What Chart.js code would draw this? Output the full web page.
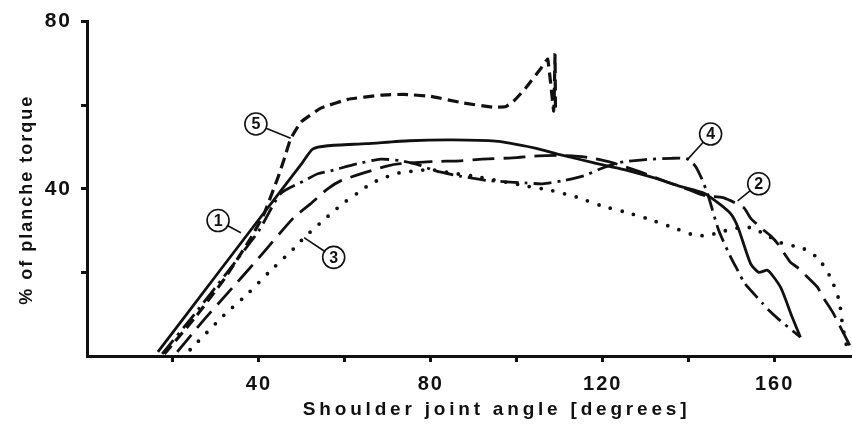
<!DOCTYPE html>
<html>
<head>
<meta charset="utf-8">
<script src="https://cdn.jsdelivr.net/npm/chart.js@4.4.1/dist/chart.umd.min.js"></script>
<style>
  html, body { margin: 0; padding: 0; background: #fff; }
  #wrap { width: 852px; height: 425px; }
</style>
</head>
<body>
<div id="wrap"><canvas id="chart"></canvas></div>
<script>
// axis ticks
const xTicks = [20, 40, 60, 80, 100, 120, 140, 160];
const xLabels = [40, 80, 120, 160];
const yTicks = [20, 40, 60, 80];
const yLabels = [40, 80];

// curve 1 - solid
const c1x = [16.5, 30, 45, 50, 52.5, 56, 65, 75, 85, 95, 104, 110, 118, 125, 132, 138, 143.5, 147, 149.8, 151.5, 154.4, 156.3, 158.4, 161.4, 164, 166];
const c1y = [1, 19.2, 39.4, 46.1, 49.5, 50.3, 50.8, 51.5, 51.7, 51.4, 49.8, 48.2, 46.2, 44.6, 42.6, 40.6, 39, 36.5, 34, 30.7, 22.1, 20, 20.5, 16.4, 9.5, 4.5];

// curve 2 - long dashes
const c2x = [21, 27, 32, 40, 48, 52, 56, 59, 64.4, 70, 73, 80, 87, 92, 99, 105, 110, 116, 122, 128, 134, 140, 144, 148, 152.8, 154.4, 157, 159, 160.7, 163.7, 165.3, 167.5, 170, 171, 173.5, 174.7, 177.7];
const c2y = [1, 8.4, 14.2, 23.5, 33, 36.4, 40, 41.9, 43.8, 45.5, 46, 46.5, 46.7, 47.1, 47.4, 47.9, 48, 47.6, 46.3, 44.3, 42, 39.8, 38.3, 37.9, 35.5, 33, 30.5, 28.8, 26.9, 22.4, 21.2, 19, 16.4, 14.5, 10.5, 8.1, 2.1];

// curve 3 - dotted
const c3x = [24, 31.9, 37, 42.3, 48.1, 50.5, 56.7, 59.8, 63, 66, 69, 72.6, 76.5, 80, 84.7, 90, 96, 102, 108, 114, 119.5, 125, 130, 137, 141, 144, 147, 150.5, 154.4, 158, 161.4, 166.7, 170.2, 173, 175, 175.8, 176.7];
const c3y = [1.5, 9.8, 14.5, 20, 25.7, 28.3, 34, 36.7, 39, 41.2, 42.6, 43.8, 44.3, 44.6, 43.8, 43, 41.9, 40.7, 39.6, 38, 36, 34.5, 33, 30.5, 29, 28.8, 29.5, 30.5, 30.7, 29, 27.1, 25.7, 23.3, 18.8, 13.3, 7.4, 2.6];

// curve 4 - dash-dot
const c4x = [17.5, 25, 33, 40, 45, 50.5, 53.7, 56.7, 63, 68.4, 73, 77, 81, 87, 93, 102, 106, 111, 115.6, 119.5, 124, 130, 136, 139.5, 141.5, 143, 144.4, 147, 149.8, 151.4, 153, 157.2, 158.6, 160.7, 166];
const c4y = [0.5, 10, 20.5, 30, 38.8, 41.9, 43.6, 44.3, 46, 47.1, 46.7, 45.8, 44.3, 43, 42, 41.4, 41.2, 42, 43.1, 44.8, 46.3, 47, 47.3, 47.2, 45.5, 42.5, 38.8, 30, 23.6, 20.5, 17.4, 12.6, 11, 9, 4.5];

// curve 5 - short dashes
const c5x = [18, 25, 32, 38, 41.2, 44.4, 46, 47.4, 49.8, 54.4, 60.7, 68.4, 73.7, 80, 87.7, 94.7, 97.5, 99.3, 102, 105.6, 107.2, 108.6, 108.9, 109];
const c5y = [0.5, 9, 18.5, 28, 34, 42.6, 47.5, 52, 56, 59.3, 61.4, 62.4, 62.6, 62.1, 60.5, 59.5, 59.7, 61, 64, 68.8, 71, 58.6, 72, 58.5];

// numbered callouts: [label, circle x, circle y, leader end x, leader end y]
const callouts = [
  ['1', 30.5, 32.4, 35.8, 29.5],
  ['2', 156.3, 41.2, 151.4, 37.1],
  ['3', 57.4, 23.6, 50.5, 28.3],
  ['4', 145.1, 53.1, 139.8, 47.1],
  ['5', 39.3, 55.5, 47.4, 52.1]
];

const ink = '#111';
const fontFamily = "'Liberation Sans', Arial, Helvetica, sans-serif";

const toPoints = (xs, ys) => xs.map((x, i) => ({ x: x, y: ys[i] }));

const lineBase = {
    borderColor: ink,
    pointRadius: 0,
    fill: false,
    tension: 0.2
};

const paperPlugin = {
    id: 'paper',
    beforeDraw(chart) {
        chart.ctx.letterSpacing = '2px';
    },
    afterDraw(chart) {
        const { ctx, scales: { x, y } } = chart;
        ctx.save();
        ctx.fillStyle = ink;
        ctx.strokeStyle = ink;
        ctx.textBaseline = 'middle';
        ctx.textAlign = 'center';

        // axis titles
        ctx.font = 'bold 19px ' + fontFamily;
        ctx.letterSpacing = '3.8px';
        ctx.fillText('Shoulder joint angle [degrees]', x.getPixelForValue(95.3), chart.height - 15);

        ctx.save();
        ctx.translate(27, y.getPixelForValue(37.4));
        ctx.rotate(-Math.PI / 2);
        ctx.font = 'bold 18px ' + fontFamily;
        ctx.letterSpacing = '2px';
        ctx.fillText('% of planche torque', 0, 0);
        ctx.restore();

        // callouts
        ctx.letterSpacing = '0px';
        ctx.font = 'bold 16px ' + fontFamily;
        const r = 11;
        callouts.forEach(([n, lx, ly, ex, ey]) => {
            const cx = x.getPixelForValue(lx), cy = y.getPixelForValue(ly);
            const px = x.getPixelForValue(ex), py = y.getPixelForValue(ey);
            const d = Math.hypot(px - cx, py - cy);
            ctx.lineWidth = 1.6;
            ctx.beginPath();
            ctx.moveTo(cx + (px - cx) / d * r, cy + (py - cy) / d * r);
            ctx.lineTo(px, py);
            ctx.stroke();
            ctx.beginPath();
            ctx.arc(cx, cy, r, 0, Math.PI * 2);
            ctx.fillStyle = '#fff';
            ctx.fill();
            ctx.stroke();
            ctx.fillStyle = ink;
            ctx.fillText(n, cx, cy + 1);
        });
        ctx.restore();
    }
};

new Chart(document.getElementById('chart'), {
    type: 'line',
    data: {
        datasets: [
            { ...lineBase, data: toPoints(c1x, c1y), borderWidth: 2.8 },
            { ...lineBase, data: toPoints(c2x, c2y), borderWidth: 2.8, borderDash: [22, 9] },
            { ...lineBase, data: toPoints(c3x, c3y), borderWidth: 3.8, borderDash: [0, 12], borderCapStyle: 'round' },
            { ...lineBase, data: toPoints(c4x, c4y), borderWidth: 2.8, borderDash: [18, 6, 3, 6] },
            { ...lineBase, data: toPoints(c5x, c5y), borderWidth: 3.2, borderDash: [11, 6], tension: 0.1 }
        ]
    },
    options: {
        responsive: true,
        maintainAspectRatio: false,
        animation: false,
        devicePixelRatio: 1,
        layout: { padding: { top: 19, right: 0, bottom: 0, left: 0 } },
        plugins: {
            legend: { display: false },
            tooltip: { enabled: false }
        },
        scales: {
            x: {
                type: 'linear',
                min: 0,
                max: 178,
                afterBuildTicks: (scale) => { scale.ticks = xTicks.map(v => ({ value: v })); },
                afterFit: (scale) => { scale.height = 69; },
                ticks: {
                    autoSkip: false,
                    maxRotation: 0,
                    padding: 10,
                    color: ink,
                    font: { family: fontFamily, size: 20, weight: 'bold' },
                    callback: (v) => xLabels.includes(v) ? String(v) : ''
                },
                grid: {
                    drawOnChartArea: false,
                    drawTicks: true,
                    tickLength: 6,
                    tickWidth: 3,
                    tickColor: ink
                },
                border: { display: true, color: ink, width: 3 }
            },
            y: {
                min: 0,
                max: 80,
                afterBuildTicks: (scale) => { scale.ticks = yTicks.map(v => ({ value: v })); },
                afterFit: (scale) => { scale.width = 87; },
                ticks: {
                    autoSkip: false,
                    padding: 9,
                    color: ink,
                    font: { family: fontFamily, size: 21, weight: 'bold' },
                    callback: (v) => yLabels.includes(v) ? String(v) : ''
                },
                grid: {
                    drawOnChartArea: false,
                    drawTicks: true,
                    tickLength: 6,
                    tickWidth: 3,
                    tickColor: ink
                },
                border: { display: true, color: ink, width: 3 }
            }
        }
    },
    plugins: [paperPlugin]
});
</script>
</body>
</html>
